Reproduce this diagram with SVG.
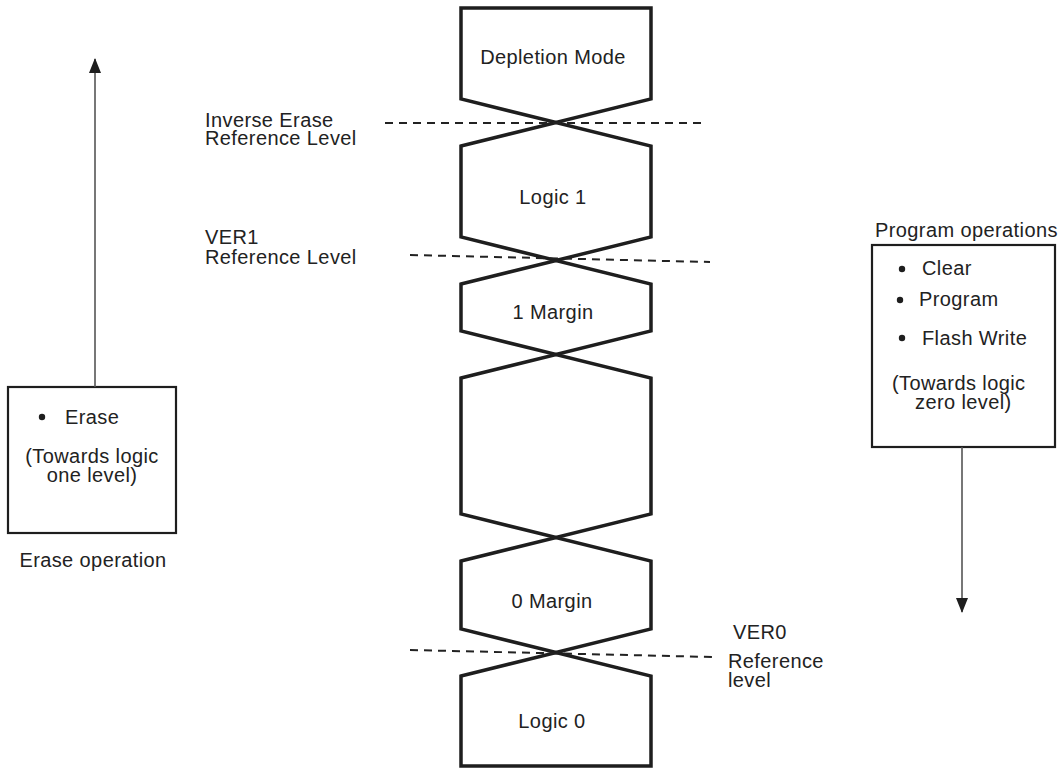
<svg xmlns="http://www.w3.org/2000/svg" width="1064" height="768" viewBox="0 0 1064 768">
<defs>
<style>
text{font-family:"Liberation Sans",Arial,sans-serif;font-size:20px;fill:#222;letter-spacing:0.4px}
.c{text-anchor:middle}
.cell{fill:none;stroke:#1e1e1e;stroke-width:3.5;stroke-linejoin:miter}
.dash{fill:none;stroke:#222;stroke-width:2;stroke-dasharray:8 6}
.box{fill:none;stroke:#1e1e1e;stroke-width:2.2}
.arr{fill:none;stroke:#555;stroke-width:1.6}
</style>
<marker id="ah" markerWidth="15" markerHeight="12" refX="14" refY="6" orient="auto" markerUnits="userSpaceOnUse">
<path d="M0,0 L15,6 L0,12 Z" fill="#1e1e1e"/>
</marker>
</defs>
<rect width="1064" height="768" fill="#fff"/>
<g id="depletion-mode">
<polygon class="cell" points="461,8 651,8 651,99 556,122.5 461,99"/>
<text class="c" x="553" y="64">Depletion Mode</text>
</g>
<g id="logic-1">
<polygon class="cell" points="461,146 556,122.5 651,146 651,237 556,260.5 461,237"/>
<text class="c" x="553" y="204">Logic 1</text>
</g>
<g id="margin-1">
<polygon class="cell" points="461,284 556,260.5 651,284 651,331 556,354.5 461,331"/>
<text class="c" x="553" y="319">1 Margin</text>
</g>
<g id="middle">
<polygon class="cell" points="461,378 556,354.5 651,378 651,514 556,537.5 461,514"/>
</g>
<g id="margin-0">
<polygon class="cell" points="461,561 556,537.5 651,561 651,629 556,652.5 461,629"/>
<text class="c" x="552" y="608">0 Margin</text>
</g>
<g id="logic-0">
<polygon class="cell" points="461,676 556,652.5 651,676 651,766 461,766"/>
<text class="c" x="552" y="728">Logic 0</text>
</g>
<g id="reference-levels">
<line class="dash" x1="385" y1="123" x2="705" y2="123"/>
<line class="dash" x1="410" y1="255" x2="710" y2="262"/>
<line class="dash" x1="410" y1="650" x2="713" y2="657"/>
<text x="205" y="127">Inverse Erase</text>
<text x="205" y="145">Reference Level</text>
<text x="205" y="244">VER1</text>
<text x="205" y="264">Reference Level</text>
<text x="733" y="639">VER0</text>
<text x="728" y="668">Reference</text>
<text x="728" y="687">level</text>
</g>
<g id="erase-box">
<rect class="box" x="8" y="387" width="168" height="146"/>
<circle cx="42" cy="417" r="3.2" fill="#1e1e1e"/>
<text x="65" y="424">Erase</text>
<text class="c" x="92" y="463">(Towards logic</text>
<text class="c" x="92" y="482">one level)</text>
<text class="c" x="93" y="567">Erase operation</text>
</g>
<g id="program-box">
<text x="875" y="237">Program operations</text>
<rect class="box" x="872" y="245" width="183" height="202"/>
<circle cx="902" cy="269" r="3.2" fill="#1e1e1e"/>
<text x="922" y="275">Clear</text>
<circle cx="900" cy="300" r="3.2" fill="#1e1e1e"/>
<text x="919" y="306">Program</text>
<circle cx="902" cy="338" r="3.2" fill="#1e1e1e"/>
<text x="922" y="345">Flash Write</text>
<text x="892" y="390">(Towards logic</text>
<text x="915" y="409">zero level)</text>
</g>
<g id="connectors">
<line class="arr" x1="95" y1="387" x2="95" y2="59" marker-end="url(#ah)"/>
<line class="arr" x1="962" y1="447" x2="962" y2="612" marker-end="url(#ah)"/>
</g>
</svg>
